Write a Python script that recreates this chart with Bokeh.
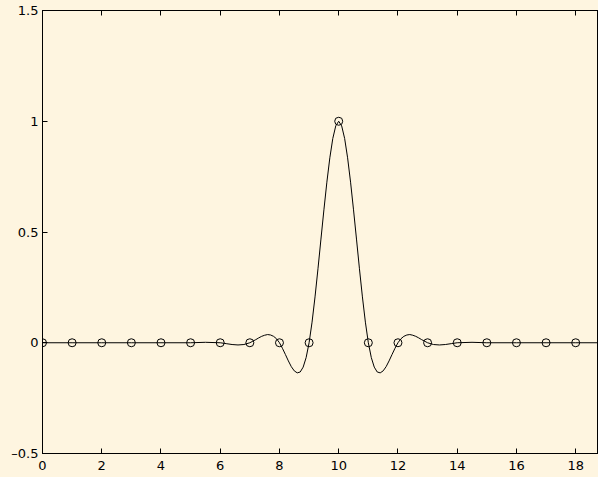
from bokeh.plotting import figure
from bokeh.models import FixedTicker, LinearAxis, Range1d, GlobalInlineStyleSheet
from bokeh.embed import file_html
from bokeh.resources import INLINE

# sample points (markers)
sample_x = [0, 1, 2, 3, 4, 5, 6, 7, 8, 9, 10, 11, 12, 13, 14, 15, 16, 17, 18, 19, 20]
sample_y = [0, 0, 0, 0, 0, 0, 0, 0, 0, 0, 1, 0, 0, 0, 0, 0, 0, 0, 0, 0, 0]

# smooth interpolating curve
curve_x = [0, 1, 2, 3, 4, 5, 5.5, 6, 6.2, 6.4, 6.6, 6.8,
           7.0, 7.1, 7.2, 7.3, 7.4, 7.5, 7.6, 7.7, 7.8, 7.9,
           8.0, 8.1, 8.2, 8.3, 8.4, 8.5, 8.6, 8.7, 8.8, 8.9,
           9.0, 9.1, 9.2, 9.3, 9.4, 9.5, 9.6, 9.7, 9.8, 9.9,
           10.0, 10.1, 10.2, 10.3, 10.4, 10.5, 10.6, 10.7, 10.8, 10.9,
           11.0, 11.1, 11.2, 11.3, 11.4, 11.5, 11.6, 11.7, 11.8, 11.9,
           12.0, 12.1, 12.2, 12.3, 12.4, 12.5, 12.6, 12.7, 12.8, 12.9,
           13.0, 13.2, 13.4, 13.6, 13.8, 14, 14.5, 15, 16, 17, 18, 19, 20]
curve_y = [0, 0, 0, 0, 0, 0, 0.002, 0, -0.004, -0.008, -0.010, -0.008,
           0, 0.007, 0.014, 0.022, 0.029, 0.034, 0.037, 0.035, 0.029, 0.018,
           0, -0.025, -0.053, -0.082, -0.108, -0.127, -0.136, -0.132, -0.110, -0.067,
           0, 0.093, 0.207, 0.334, 0.468, 0.600, 0.725, 0.835, 0.922, 0.979,
           1.0, 0.979, 0.922, 0.835, 0.725, 0.600, 0.468, 0.334, 0.207, 0.093,
           0, -0.067, -0.110, -0.132, -0.136, -0.127, -0.108, -0.082, -0.053, -0.025,
           0, 0.018, 0.029, 0.035, 0.037, 0.034, 0.029, 0.022, 0.014, 0.007,
           0, -0.008, -0.010, -0.008, -0.004, 0, 0.002, 0, 0, 0, 0, 0, 0]

x_ticks = [0, 2, 4, 6, 8, 10, 12, 14, 16, 18, 20]
y_ticks = [-0.5, 0, 0.5, 1, 1.5]
y_tick_labels = ["\u20130.5", "0", "0.5", "1", "1.5"]

BG = "#fef5e0"
FONT = "DejaVu Sans"

p = figure(frame_width=556, frame_height=443,
           x_range=Range1d(0, 18.77), y_range=Range1d(-0.5, 1.5),
           output_backend="svg", toolbar_location=None,
           min_border_left=42, min_border_top=10, min_border_right=0, min_border_bottom=0,
           background_fill_color=BG, border_fill_color=BG,
           outline_line_color="black", outline_line_width=1,
           stylesheets=[GlobalInlineStyleSheet(css="body{background:%s;}" % BG)])

p.grid.visible = False

p.line(curve_x, curve_y, line_color="black", line_width=1)
p.scatter(sample_x, sample_y, marker="circle", size=8, fill_color=None,
          line_color="black", line_width=1)

for ax in (p.xaxis[0], p.yaxis[0]):
    ax.major_tick_in = 5
    ax.major_tick_out = 0
    ax.minor_tick_line_color = None
    ax.axis_line_color = "black"
    ax.major_tick_line_color = "black"
    ax.major_label_text_font = FONT
    ax.major_label_text_font_size = "13px"
    ax.major_label_text_color = "black"

p.xaxis[0].ticker = FixedTicker(ticks=x_ticks)
p.xaxis[0].major_label_standoff = 7
p.yaxis[0].ticker = FixedTicker(ticks=y_ticks)
p.yaxis[0].major_label_overrides = {t: s for t, s in zip(y_ticks, y_tick_labels)}
p.yaxis[0].major_label_standoff = 4

top = LinearAxis(ticker=FixedTicker(ticks=x_ticks), major_tick_in=5, major_tick_out=0,
                 major_label_text_font_size="1px", major_label_text_color=None,
                 major_label_standoff=0,
                 minor_tick_line_color=None, axis_line_color="black",
                 major_tick_line_color="black")
p.add_layout(top, "above")

open("out.html", "w").write(file_html(p, INLINE))
